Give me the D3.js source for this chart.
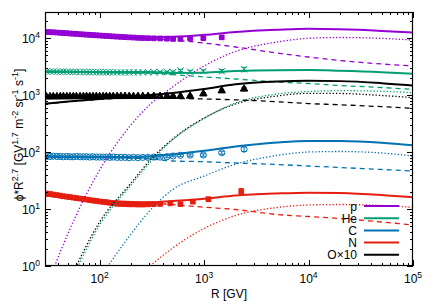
<!doctype html>
<html>
<head>
    <script src="https://d3js.org/d3.v7.min.js"></script>
</head>
<style>
    body { margin: 0; background: #fff; }
    svg text { font-family: "Liberation Sans", Arial, sans-serif; font-size: 12px; fill: #000; }
</style>
<body>
<script>
    // model curves, sampled on a common rigidity grid (GV)
    var curveR = [30, 50, 100, 200, 300, 500, 1000, 2000, 5000, 1e4, 2e4, 5e4, 1e5];

    var pTotal = [13200, 12400, 11450, 10850, 10600, 10700, 11500, 12900, 14100, 14700, 14400, 13500, 12600];
    var pLow   = [13180, 12390, 11430, 10550, 9930, 9340, 8270, 7040, 5520, 4700, 4080, 3540, 3265];
    var pHigh  = [0.36, 3.8, 48.6, 303, 674, 1396, 3265, 5865, 8610, 10000, 10330, 9970, 9340];

    var heTotal = [2594, 2580, 2565, 2545, 2535, 2465, 2490, 2660, 2760, 2770, 2690, 2540, 2380];
    var heLow   = [2594, 2580, 2560, 2520, 2470, 2300, 2100, 1930, 1709, 1608, 1483, 1368, 1271];
    var heHigh  = [0.05, 0.42, 5.25, 26.5, 64.5, 164, 390, 731, 1052, 1164, 1202, 1173, 1109];

    var cTotal = [82.2, 82.2, 82, 83, 85, 92, 106, 126, 148, 157.5, 156.5, 146, 132];
    var cLow   = [82.2, 82.2, 81.2, 79.6, 76, 70, 68, 64.5, 60.7, 57.1, 53.8, 49.6, 46.7];
    var cHigh  = [0.01, 0.066, 0.59, 3.65, 9.2, 22, 38, 61.5, 87.4, 100.6, 102.7, 96.7, 85.6];

    var nTotal = [17.3, 15.65, 14.27, 13.32, 13.15, 13.9, 15.2, 17.3, 18.78, 19.4, 19.16, 17.68, 16.11];
    var nLow   = [17.3, 15.65, 14.27, 13.21, 12.89, 12.0, 10.8, 9.83, 8.03, 7.41, 6.83, 5.93, 5.25];
    var nHigh  = [0.0144, 0.039, 0.156, 0.5, 0.98, 2.07, 4.56, 7.71, 10.66, 11.8, 12.03, 11.56, 10.75];

    var oTotal = [710, 776, 859, 940, 1010, 1100, 1290, 1560, 1742, 1790, 1770, 1630, 1480];
    var oLow   = [705, 770, 845, 895, 900, 880, 860, 830, 770, 715, 680, 630, 590];
    var oHigh  = [0.064, 0.5, 5.93, 28.7, 70, 170, 398, 702, 970, 1082, 1075, 990, 905];

    // measured points, low rigidity part (shared bins)
    var denseR = [31, 33.5, 36, 39, 42, 45, 48.5, 52, 56, 60, 65, 70, 75, 80.5, 86.5, 93,
                  100, 108, 116, 125, 135, 147, 160, 175, 192, 211, 233, 259, 291, 330, 379, 441];
    var denseRelErr = [0.02, 0.02, 0.02, 0.02, 0.02, 0.02, 0.02, 0.02, 0.02, 0.02, 0.02, 0.02, 0.02, 0.02, 0.02, 0.02,
                       0.025, 0.025, 0.025, 0.025, 0.025, 0.025, 0.025, 0.025, 0.03, 0.03, 0.03, 0.03, 0.035, 0.035, 0.04, 0.04];

    var pData  = [12900, 12850, 12750, 12650, 12500, 12400, 12300, 12150, 12050, 11950, 11800, 11700, 11600, 11500, 11400, 11300,
                  11200, 11100, 11000, 10900, 10800, 10700, 10600, 10500, 10400, 10300, 10200, 10100, 10050, 10000, 9950, 9850];
    var heData = [2620, 2610, 2600, 2600, 2590, 2590, 2580, 2580, 2570, 2570, 2560, 2560, 2550, 2550, 2550, 2540,
                  2540, 2540, 2530, 2530, 2530, 2520, 2520, 2520, 2520, 2520, 2520, 2530, 2530, 2540, 2540, 2550];
    var cData  = [84, 84, 85, 84, 84, 83, 84, 83, 83, 84, 83, 83, 83, 82, 83, 82,
                  82, 82, 82, 81, 82, 81, 81, 81, 80, 81, 80, 81, 81, 82, 82, 83];
    var nData  = [18.8, 18.4, 18.0, 17.6, 17.2, 16.8, 16.5, 16.2, 15.9, 15.6, 15.3, 15.0, 14.7, 14.4, 14.1, 13.9,
                  13.6, 13.4, 13.2, 12.9, 12.6, 12.4, 12.3, 12.2, 12.1, 12.1, 12.0, 12.0, 12.1, 12.2, 12.3, 12.4];
    var oData  = [940, 942, 944, 945, 946, 947, 948, 948, 949, 950, 950, 950, 951, 951, 952, 952,
                  952, 953, 953, 953, 954, 954, 954, 955, 955, 955, 955, 956, 956, 956, 957, 957];

    // measured points, high rigidity part
    var pTailR = [505, 594, 735, 984, 1475];
    var pTail = [9750, 9750, 10000, 10050, 10400];
    var pTailErr = [350, 400, 450, 550, 700];

    var heTailR = [505, 594, 735, 984, 1475, 2415];
    var heTail = [2560, 2720, 2600, 2650, 2650, 2850];
    var heTailErr = [100, 120, 130, 150, 180, 250];

    var cTailR = [505, 594, 735, 984, 1475, 2415];
    var cTail = [85.6, 88, 89, 89, 98, 113];
    var cTailErr = [3, 3.5, 4, 4.5, 6, 10];

    var nTailR = [475, 594, 780, 1100, 2270];
    var nTail = [12.6, 12.2, 13.5, 14.9, 20.2];
    var nTailErr = [0.6, 0.7, 0.9, 1.2, 2.8];

    var oTailR = [505, 594, 735, 984, 1475, 2415];
    var oTail = [955, 960, 965, 1060, 1200, 1290];
    var oTailErr = [30, 35, 40, 50, 70, 90];

    var legendLabels = ["p", "He", "C", "N", "O\u00d710"];
    var xMajor = [100, 1000, 10000, 100000];
    var yMajor = [1, 10, 100, 1000, 10000];

    var width = 436, height = 305;
    var pLeft = 45, pRight = 413, pTop = 12, pBottom = 266;

    var x = d3.scaleLog().domain([30, 1e5]).range([pLeft, pRight]);
    var y = d3.scaleLog().domain([1, 2.9e4]).range([pBottom, pTop]);

    var svg = d3.select("body").append("svg")
        .attr("width", width)
        .attr("height", height);

    svg.append("defs").append("clipPath").attr("id", "plot")
        .append("rect")
        .attr("x", pLeft).attr("y", pTop)
        .attr("width", pRight - pLeft).attr("height", pBottom - pTop);

    var plot = svg.append("g").attr("clip-path", "url(#plot)");

    function relErr(vals) { return vals.map(function (d, i) { return d * denseRelErr[i]; }); }

    var species = [
        {color: "#9400d3", total: pTotal, low: pLow, high: pHigh, R: denseR.concat(pTailR), v: pData.concat(pTail),
         e: relErr(pData).concat(pTailErr), shape: "square"},
        {color: "#009e73", total: heTotal, low: heLow, high: heHigh, R: denseR.concat(heTailR), v: heData.concat(heTail),
         e: relErr(heData).concat(heTailErr), shape: "cross"},
        {color: "#0072b2", total: cTotal, low: cLow, high: cHigh, R: denseR.concat(cTailR), v: cData.concat(cTail),
         e: relErr(cData).concat(cTailErr), shape: "circle"},
        {color: "#e51e10", total: nTotal, low: nLow, high: nHigh, R: denseR.slice(0, 31).concat(nTailR), v: nData.slice(0, 31).concat(nTail),
         e: relErr(nData.slice(0, 31)).concat(nTailErr), shape: "square"},
        {color: "#000000", total: oTotal, low: oLow, high: oHigh, R: denseR.concat(oTailR), v: oData.concat(oTail),
         e: relErr(oData).concat(oTailErr), shape: "triangle"}
    ];

    var line = d3.line()
        .x(function (d) { return x(d[0]); })
        .y(function (d) { return y(d[1]); })
        .curve(d3.curveMonotoneX);

    function pairs(vals) { return curveR.map(function (r, i) { return [r, vals[i]]; }); }

    // data points with error bars
    species.forEach(function (s) {
        var g = plot.append("g").attr("stroke", s.color).attr("fill", s.color).attr("stroke-width", 1);
        var pts = g.selectAll("g").data(s.R.map(function (r, i) { return [r, s.v[i], s.e[i]]; }))
            .enter().append("g")
            .attr("transform", function (d) { return "translate(" + x(d[0]) + ",0)"; });
        pts.append("line")
            .attr("y1", function (d) { return y(d[1] - d[2]); })
            .attr("y2", function (d) { return y(d[1] + d[2]); });
        pts.append("line").attr("x1", -2.5).attr("x2", 2.5)
            .attr("y1", function (d) { return y(d[1] - d[2]); })
            .attr("y2", function (d) { return y(d[1] - d[2]); });
        pts.append("line").attr("x1", -2.5).attr("x2", 2.5)
            .attr("y1", function (d) { return y(d[1] + d[2]); })
            .attr("y2", function (d) { return y(d[1] + d[2]); });
        var sym;
        if (s.shape === "square") sym = d3.symbol().type(d3.symbolSquare).size(22);
        if (s.shape === "triangle") sym = d3.symbol().type(d3.symbolTriangle).size(24);
        if (s.shape === "circle") sym = d3.symbol().type(d3.symbolCircle).size(30);
        if (s.shape === "cross") sym = d3.symbol().type(d3.symbolX).size(28);
        pts.append("path")
            .attr("transform", function (d) { return "translate(0," + y(d[1]) + ")"; })
            .attr("d", sym)
            .attr("fill", (s.shape === "circle" || s.shape === "cross") ? "none" : s.color);
    });

    // model curves
    species.forEach(function (s) {
        plot.append("path").datum(pairs(s.low)).attr("d", line)
            .attr("fill", "none").attr("stroke", s.color).attr("stroke-width", 1.3)
            .attr("stroke-dasharray", "5,4");
        plot.append("path").datum(pairs(s.high)).attr("d", line)
            .attr("fill", "none").attr("stroke", s.color).attr("stroke-width", 1.3)
            .attr("stroke-dasharray", "1.3,2");
        plot.append("path").datum(pairs(s.total)).attr("d", line)
            .attr("fill", "none").attr("stroke", s.color).attr("stroke-width", 2);
    });

    // ticks on all four sides, pointing inward
    var xMinor = [], yMinor = [];
    [10, 100, 1000, 10000].forEach(function (d) {
        for (var k = 2; k < 10; k++) if (d * k >= 30) xMinor.push(d * k);
    });
    [1, 10, 100, 1000, 10000].forEach(function (d) {
        for (var k = 2; k < 10; k++) if (d * k <= 2.9e4) yMinor.push(d * k);
    });

    function ticks(xv, yv, len) {
        var g = svg.append("g").attr("stroke", "#000").attr("stroke-width", 1).attr("shape-rendering", "crispEdges");
        [pBottom, pTop].forEach(function (edge) {
            g.append("g").selectAll("line").data(xv).enter().append("line")
                .attr("x1", function (d) { return Math.round(x(d)) + 0.5; })
                .attr("x2", function (d) { return Math.round(x(d)) + 0.5; })
                .attr("y1", edge).attr("y2", edge === pTop ? edge + len : edge - len);
        });
        [pLeft, pRight].forEach(function (edge) {
            g.append("g").selectAll("line").data(yv).enter().append("line")
                .attr("y1", function (d) { return Math.round(y(d)) + 0.5; })
                .attr("y2", function (d) { return Math.round(y(d)) + 0.5; })
                .attr("x1", edge).attr("x2", edge === pLeft ? edge + len : edge - len);
        });
    }
    ticks(xMinor, yMinor, 3);
    ticks(xMajor, yMajor, 6);

    svg.append("rect")
        .attr("x", pLeft + 0.5).attr("y", pTop + 0.5)
        .attr("width", pRight - pLeft - 1).attr("height", pBottom - pTop - 1)
        .attr("fill", "none").attr("stroke", "#000").attr("stroke-width", 1.2);

    function power(sel, exp) {
        sel.append("tspan").text("10");
        sel.append("tspan").attr("dy", -5).style("font-size", "8.5px").text(exp);
    }

    svg.append("g").selectAll("text").data(xMajor).enter().append("text")
        .attr("x", function (d) { return x(d); })
        .attr("y", 283)
        .attr("text-anchor", "middle")
        .each(function (d) { power(d3.select(this), Math.round(Math.log10(d))); });

    svg.append("g").selectAll("text").data(yMajor).enter().append("text")
        .attr("x", 40)
        .attr("y", function (d) { return y(d) + 4.5; })
        .attr("text-anchor", "end")
        .each(function (d) { power(d3.select(this), Math.round(Math.log10(d))); });

    svg.append("text")
        .attr("x", (pLeft + pRight) / 2)
        .attr("y", 298)
        .attr("text-anchor", "middle")
        .text("R [GV]");

    var yl = svg.append("text")
        .attr("transform", "translate(23,135) rotate(-90)")
        .attr("text-anchor", "middle");
    [["\u03d5*R", 0], ["2.7", -5], [" [GV", 5], ["1.7", -5], [" m", 5], ["-2", -5],
     [" sr", 5], ["-1", -5], [" s", 5], ["-1", -5], ["]", 5]].forEach(function (t) {
        var ts = yl.append("tspan").attr("dy", t[1]).text(t[0]);
        if (t[1] < 0) ts.style("font-size", "9px");
    });

    // legend
    var leg = svg.append("g").selectAll("g").data(species).enter().append("g")
        .attr("transform", function (d, i) { return "translate(0," + (206 + i * 12.2) + ")"; });
    leg.append("text")
        .attr("x", 357).attr("y", 4.5)
        .attr("text-anchor", "end")
        .text(function (d, i) { return legendLabels[i]; });
    leg.append("line")
        .attr("x1", 364).attr("x2", 399)
        .attr("stroke", function (d) { return d.color; })
        .attr("stroke-width", 2);
</script>
</body>
</html>
